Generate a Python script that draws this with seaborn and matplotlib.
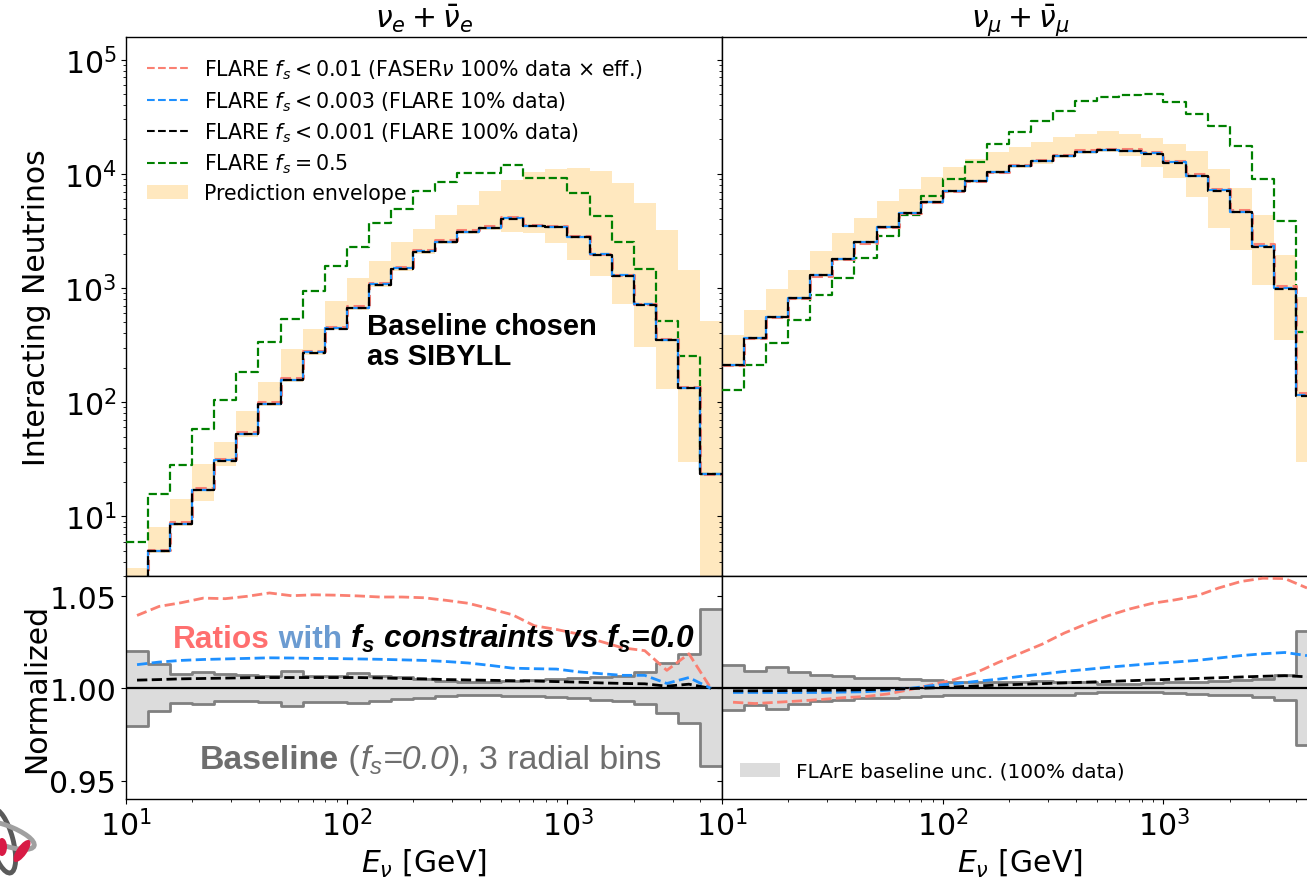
import numpy as np
import matplotlib
matplotlib.use("Agg")
import matplotlib.pyplot as plt
import seaborn as sns
from matplotlib.lines import Line2D
from matplotlib.patches import Patch, Ellipse
from matplotlib.offsetbox import TextArea, HPacker, AnchoredOffsetbox
from matplotlib.ticker import FixedLocator, FormatStrFormatter

# ---------------- data ----------------
bin_edges = np.logspace(1.0, 3.7, 28)          # 27 log bins, 0.1 decade each

# nu_e + nubar_e : baseline (f_s = 0, SIBYLL)
base_e = [2.6, 4.9, 8.45, 16.9, 30.6, 51.8, 95.3, 154.5, 268, 437, 664, 1063, 1466,
          2065, 2510, 3070, 3330, 4020, 3480, 3400, 2780, 1950, 1283, 714, 351, 132, 23.4]
green_e = [6.0, 15.8, 28.3, 58, 105, 183, 339, 535, 942, 1550, 2270, 3680, 4950,
           7010, 8440, 10150, 10150, 11900, 9120, 9120, 6820, 4270, 2510, 1466, 514, 254, 23.5]
env_hi_e = [3.5, 8.1, 14.3, 28.8, 44.7, 83.4, 151, 292, 437, 765, 1225, 1710, 2510,
            3300, 4400, 5360, 7100, 8870, 10400, 11000, 11200, 10600, 8280, 5550, 3210, 1450, 518]
env_lo_e = [1.0, 4.8, 8.2, 13.5, 27.6, 50, 92, 150, 260, 425, 645, 1030, 1420,
            2000, 2430, 2950, 3200, 3110, 3010, 2480, 1770, 1283, 725, 307, 131, 29.9, 1.0]
ratio_001_e = [1.0396, 1.0445, 1.0465, 1.0490, 1.0487, 1.0500, 1.0518, 1.0503, 1.0508,
               1.0506, 1.0502, 1.0496, 1.0496, 1.0492, 1.0478, 1.0462, 1.0432, 1.0400,
               1.0340, 1.0320, 1.0295, 1.0255, 1.0220, 1.0205, 1.0098, 1.0188, 1.0000]
ratio_0003_e = [1.0129, 1.0143, 1.0152, 1.0157, 1.0160, 1.0163, 1.0166, 1.0165, 1.0163,
                1.0162, 1.0160, 1.0158, 1.0155, 1.0152, 1.0146, 1.0138, 1.0125, 1.0110,
                1.0107, 1.0105, 1.0090, 1.0080, 1.0071, 1.0071, 1.0027, 1.0059, 1.0000]
ratio_0001_e = [1.0045, 1.0048, 1.0052, 1.0054, 1.0056, 1.0058, 1.0059, 1.0059, 1.0059,
                1.0059, 1.0059, 1.0057, 1.0054, 1.0052, 1.0048, 1.0046, 1.0044, 1.0042,
                1.0040, 1.0037, 1.0034, 1.0030, 1.0027, 1.0025, 1.0012, 1.0023, 1.0000]
unc_up_e = [1.0205, 1.0130, 1.0080, 1.0087, 1.0080, 1.0072, 1.0066, 1.0092, 1.0066,
            1.0070, 1.0084, 1.0066, 1.0060, 1.0051, 1.0042, 1.0033, 1.0036, 1.0042,
            1.0045, 1.0050, 1.0056, 1.0064, 1.0069, 1.0090, 1.0136, 1.0187, 1.0429]
unc_lo_e = [0.9798, 0.9876, 0.9923, 0.9915, 0.9930, 0.9930, 0.9927, 0.9907, 0.9925,
            0.9928, 0.9922, 0.9932, 0.9942, 0.9947, 0.9958, 0.9967, 0.9967, 0.9960,
            0.9960, 0.9951, 0.9946, 0.9938, 0.9933, 0.9915, 0.9869, 0.9815, 0.9578]

# nu_mu + nubar_mu
base_m = [213, 365, 558, 823, 1290, 1808, 2512, 3420, 4500, 5650, 7050, 8570, 10300,
          11750, 12800, 14300, 15500, 16000, 15800, 14900, 12400, 9480, 7050, 4560, 2290, 973, 113]
green_m = [129, 213, 333, 522, 863, 1222, 1841, 2830, 4330, 6390, 9040, 12800, 18200,
           23100, 28900, 35800, 43800, 47500, 49400, 50400, 42400, 33500, 26300, 17700, 9040, 3830, 412]
env_hi_m = [391, 646, 986, 1427, 2093, 3030, 4090, 5730, 7390, 9420, 11400, 13500, 15500,
            17100, 18900, 21200, 22400, 23500, 22400, 20800, 18200, 15900, 11100, 7590, 4380, 1960, 828]
env_lo_m = [205, 350, 535, 790, 1240, 1735, 2410, 3280, 4320, 5420, 6770, 8230, 9890,
            11300, 12300, 13700, 14900, 15400, 14300, 11400, 9170, 6250, 3350, 2160, 1070, 348, 30]
ratio_001_m = [0.9925, 0.9918, 0.9925, 0.9932, 0.9940, 0.9950, 0.9956, 0.9970, 0.9993,
               1.0020, 1.0047, 1.0085, 1.0140, 1.0190, 1.0240, 1.0300, 1.0350, 1.0395,
               1.0432, 1.0462, 1.0480, 1.0502, 1.0545, 1.0580, 1.0598, 1.0596, 1.0545]
ratio_0003_m = [0.9978, 0.9978, 0.9978, 0.9978, 0.9978, 0.9980, 0.9982, 0.9990, 1.0000,
                1.0015, 1.0025, 1.0038, 1.0050, 1.0065, 1.0078, 1.0092, 1.0103, 1.0115,
                1.0125, 1.0135, 1.0143, 1.0152, 1.0165, 1.0178, 1.0188, 1.0195, 1.0178]
ratio_0001_m = [0.9987, 0.9987, 0.9988, 0.9989, 0.9990, 0.9991, 0.9993, 0.9996, 0.9999,
                1.0003, 1.0008, 1.0013, 1.0018, 1.0022, 1.0026, 1.0030, 1.0034, 1.0038,
                1.0042, 1.0046, 1.0050, 1.0054, 1.0058, 1.0062, 1.0066, 1.0069, 1.0063]
unc_up_m = [1.0127, 1.0096, 1.0118, 1.0087, 1.0072, 1.0069, 1.0058, 1.0054, 1.0051,
            1.0045, 1.0036, 1.0033, 1.0036, 1.0036, 1.0040, 1.0036, 1.0033, 1.0025,
            1.0025, 1.0027, 1.0033, 1.0033, 1.0040, 1.0045, 1.0051, 1.0072, 1.0310]
unc_lo_m = [0.9882, 0.9909, 0.9888, 0.9918, 0.9931, 0.9937, 0.9946, 0.9949, 0.9953,
            0.9960, 0.9964, 0.9967, 0.9967, 0.9967, 0.9964, 0.9967, 0.9973, 0.9978,
            0.9982, 0.9978, 0.9973, 0.9971, 0.9967, 0.9964, 0.9955, 0.9937, 0.9695]

legend_labels = [r"FLARE $f_s < 0.01$ (FASER$\nu$ 100% data × eff.)",
                 r"FLARE $f_s < 0.003$ (FLARE 10% data)",
                 r"FLARE $f_s < 0.001$ (FLARE 100% data)",
                 r"FLARE $f_s = 0.5$",
                 "Prediction envelope"]
titles = [r"$\nu_e + \bar{\nu}_e$", r"$\nu_\mu + \bar{\nu}_\mu$"]

# ---------------- style ----------------
sns.set_style("ticks")
SANS = "Liberation Sans"
plt.rcParams.update({
    "font.family": ["DejaVu Sans"],
    "axes.edgecolor": "black", "axes.labelcolor": "black", "text.color": "black",
    "xtick.color": "black", "ytick.color": "black",
    "xtick.labelsize": 21.5, "ytick.labelsize": 21.5,
    "axes.labelsize": 21.5, "axes.titlesize": 21.5,
    "axes.linewidth": 1.0,
    "mathtext.rm": SANS, "mathtext.it": SANS + ":italic",
    "mathtext.bf": SANS + ":bold", "mathtext.bfit": SANS + ":italic:bold",
    "mathtext.sf": SANS,
})

C_PINK, C_BLUE, C_BLACK, C_GREEN = "salmon", "dodgerblue", "black", "green"
ENV_COLOR = "orange"
BAND_FILL, BAND_EDGE = "#dcdcdc", "#808080"

W, H = 1307, 879
fig = plt.figure(figsize=(W / 100, H / 100), dpi=100)


def rect(x0, y0, x1, y1):
    return [x0 / W, 1 - y1 / H, (x1 - x0) / W, (y1 - y0) / H]


axT = [fig.add_axes(rect(126, 38, 722, 577)), fig.add_axes(rect(722, 38, 1318, 577))]
axB = [fig.add_axes(rect(126, 577, 722, 800)), fig.add_axes(rect(722, 577, 1318, 800))]

centers = np.sqrt(bin_edges[:-1] * bin_edges[1:])


def ext(v):
    v = np.asarray(v, float)
    return np.append(v, v[-1])


panels = [
    dict(base=base_e, green=green_e, hi=env_hi_e, lo=env_lo_e,
         r1=ratio_001_e, r2=ratio_0003_e, r3=ratio_0001_e, up=unc_up_e, dn=unc_lo_e),
    dict(base=base_m, green=green_m, hi=env_hi_m, lo=env_lo_m,
         r1=ratio_001_m, r2=ratio_0003_m, r3=ratio_0001_m, up=unc_up_m, dn=unc_lo_m),
]

for i, p in enumerate(panels):
    at, ab = axT[i], axB[i]
    at.set_xscale("log"); at.set_yscale("log")
    ab.set_xscale("log")
    base = np.asarray(p["base"], float)

    # top: prediction envelope + step histograms
    at.fill_between(bin_edges, ext(p["lo"]), ext(p["hi"]), step="post",
                    color=ENV_COLOR, alpha=0.25, lw=0, zorder=1)
    sns.lineplot(x=bin_edges, y=ext(p["green"]), ax=at, color=C_GREEN, lw=1.6,
                 linestyle="--", drawstyle="steps-post", estimator=None, zorder=3)
    sns.lineplot(x=bin_edges, y=ext(base * np.asarray(p["r1"])), ax=at, color=C_PINK, lw=2.2,
                 linestyle="--", drawstyle="steps-post", estimator=None, zorder=4)
    sns.lineplot(x=bin_edges, y=ext(base * np.asarray(p["r2"])), ax=at, color=C_BLUE, lw=1.6,
                 linestyle=(2.5, (4, 2)), drawstyle="steps-post", estimator=None, zorder=5)
    sns.lineplot(x=bin_edges, y=ext(base * np.asarray(p["r3"])), ax=at, color=C_BLACK, lw=1.6,
                 linestyle=(0, (4, 2)), drawstyle="steps-post", estimator=None, zorder=6)

    # bottom: baseline uncertainty band + ratios
    ab.fill_between(bin_edges, ext(p["dn"]), ext(p["up"]), step="post",
                    color=BAND_FILL, lw=0, zorder=1)
    sns.lineplot(x=bin_edges, y=ext(p["up"]), ax=ab, color=BAND_EDGE, lw=2.0,
                 drawstyle="steps-post", estimator=None, zorder=2)
    sns.lineplot(x=bin_edges, y=ext(p["dn"]), ax=ab, color=BAND_EDGE, lw=2.0,
                 drawstyle="steps-post", estimator=None, zorder=2)
    ab.axhline(1.0, color="black", lw=1.6, zorder=3)
    sns.lineplot(x=centers, y=p["r1"], ax=ab, color=C_PINK, lw=2.0, linestyle="--",
                 estimator=None, zorder=4)
    sns.lineplot(x=centers, y=p["r2"], ax=ab, color=C_BLUE, lw=2.0, linestyle="--",
                 estimator=None, zorder=5)
    sns.lineplot(x=centers, y=p["r3"], ax=ab, color=C_BLACK, lw=2.0, linestyle="--",
                 estimator=None, zorder=6)

    for ax in (at, ab):
        ax.set_xlim(10, 10 ** 3.7)
        ax.set_xlabel(""); ax.set_ylabel("")
    at.set_ylim(3, 1.58e5)
    ab.set_ylim(0.94, 1.061)
    ab.yaxis.set_major_locator(FixedLocator([0.95, 1.00, 1.05]))
    ab.yaxis.set_major_formatter(FormatStrFormatter("%.2f"))
    at.tick_params(axis="x", which="both", bottom=False, labelbottom=False)
    at.set_title(titles[i], pad=7)
    ab.set_xlabel(r"$E_\nu$ [GeV]")
    if i == 1:
        at.tick_params(axis="y", which="both", labelleft=False)
        ab.tick_params(axis="y", which="both", labelleft=False)

axT[0].set_ylabel("Interacting Neutrinos")
axB[0].set_ylabel("Normalized")
axT[0].yaxis.set_label_coords(-0.125, 0.5)
axB[0].yaxis.set_label_coords(-0.125, 0.5)

# legends
handles = [Line2D([], [], color=C_PINK, ls="--", lw=1.5),
           Line2D([], [], color=C_BLUE, ls="--", lw=1.5),
           Line2D([], [], color=C_BLACK, ls="--", lw=1.5),
           Line2D([], [], color=C_GREEN, ls="--", lw=1.5),
           Patch(facecolor=ENV_COLOR, alpha=0.25, lw=0)]
axT[0].legend(handles, legend_labels, loc="upper left", frameon=False, fontsize=14.8,
              borderaxespad=0.6, labelspacing=0.38)
axB[1].legend([Patch(facecolor=BAND_FILL, lw=0)], ["FLArE baseline unc. (100% data)"],
              loc="lower left", frameon=False, fontsize=14.4)

# annotations
axT[0].text(0.405, 0.489, "Baseline chosen\nas SIBYLL", transform=axT[0].transAxes,
            ha="left", va="top", fontsize=21, fontweight="bold",
            family=SANS, linespacing=1.05, zorder=10)

fs_r = 22.8
pieces = [
    TextArea("Ratios", textprops=dict(color="#ff6f6f", fontsize=fs_r, fontweight="bold", family=SANS)),
    TextArea(" with", textprops=dict(color="#6b9bd1", fontsize=fs_r, fontweight="bold", family=SANS)),
    TextArea(r" $\mathbfit{f}_{\mathbfit{s}}$ constraints vs $\mathbfit{f}_{\mathbfit{s}}$=0.0",
             textprops=dict(color="black", fontsize=fs_r, fontweight="bold", fontstyle="italic",
                            family=SANS, math_fontfamily="custom")),
]
box = AnchoredOffsetbox(loc="lower left", child=HPacker(children=pieces, align="baseline", pad=0, sep=0),
                        pad=0, borderpad=0, frameon=False,
                        bbox_to_anchor=(0.079, 0.652), bbox_transform=axB[0].transAxes)
box.set_zorder(10)
axB[0].add_artist(box)

GREY = "#6e6e6e"
fs_g = 24.4
gpieces = [
    TextArea("Baseline", textprops=dict(color=GREY, fontsize=fs_g, fontweight="bold", family=SANS)),
    TextArea(" (", textprops=dict(color=GREY, fontsize=fs_g, family=SANS)),
    TextArea(r"$\mathit{f}_{\mathit{s}}$", textprops=dict(color=GREY, fontsize=fs_g, family=SANS,
                                                        math_fontfamily="custom")),
    TextArea("=0.0", textprops=dict(color=GREY, fontsize=fs_g, fontstyle="italic", family=SANS)),
    TextArea("), 3 radial bins", textprops=dict(color=GREY, fontsize=fs_g, family=SANS)),
]
gbox = AnchoredOffsetbox(loc="lower left", child=HPacker(children=gpieces, align="baseline", pad=0, sep=0),
                         pad=0, borderpad=0, frameon=False,
                         bbox_to_anchor=(0.124, 0.105), bbox_transform=axB[0].transAxes)
gbox.set_zorder(10)
axB[0].add_artist(gbox)

# small partial logo in the lower-left corner
lax = fig.add_axes(rect(0, 800, 40, 879))
lax.set_xlim(0, 40); lax.set_ylim(79, 0); lax.axis("off")
lax.add_patch(Ellipse((2, 42), 22, 66, angle=-15, fill=False, ec="#5a5a5a", lw=3.5))
lax.add_patch(Ellipse((4, 36), 64, 20, angle=20, fill=False, ec="#a0a0a0", lw=3.5))
lax.add_patch(Ellipse((22, 52), 10, 26, angle=35, fc="#d81b45", ec="none"))
lax.add_patch(Ellipse((2, 48), 10, 18, angle=0, fc="#d81b45", ec="none"))

fig.savefig("out.png", dpi=100)
